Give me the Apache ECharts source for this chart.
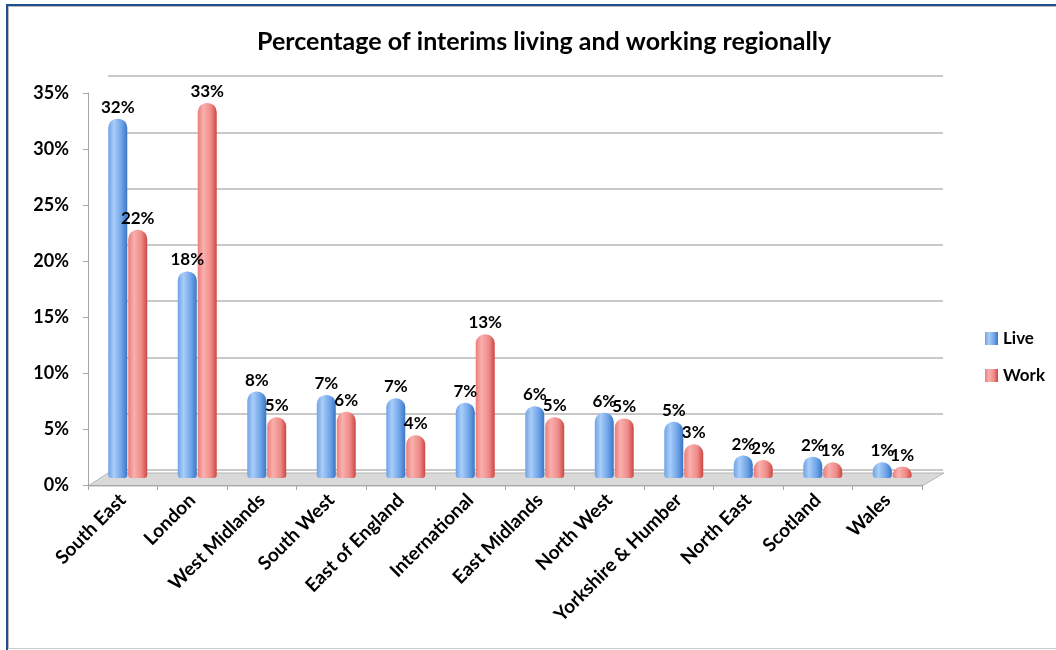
<!DOCTYPE html>
<html>
<head>
<meta charset="utf-8">
<script src="https://cdn.jsdelivr.net/npm/echarts@6/dist/echarts.min.js"></script>
<style>
  html, body { margin: 0; padding: 0; background: #fff; }
  #frame { position: absolute; left: 6px; top: 4px; width: 1056px; height: 650px;
           border-top: 2px solid #1f4f8f; border-left: 2px solid #1f4f8f; box-sizing: border-box; }
  #inner { position: absolute; left: 8px; top: 6px; width: 1056px; height: 643px;
           border-top: 1px solid #b8b8b8; border-left: 1px solid #b8b8b8; border-bottom: 1px solid #cfcfcf; box-sizing: border-box; }
  #chart { position: absolute; left: 0; top: 0; width: 1056px; height: 650px; }
</style>
</head>
<body>
<div id="frame"></div>
<div id="inner"></div>
<div id="chart"></div>
<script>
const categories = ["South East", "London", "West Midlands", "South West", "East of England",
  "International", "East Midlands", "North West", "Yorkshire & Humber", "North East", "Scotland", "Wales"];
const liveValues = [32.0, 18.4, 7.7, 7.4, 7.1, 6.7, 6.4, 5.8, 5.0, 2.0, 1.9, 1.4];
const workValues = [22.1, 33.4, 5.4, 5.9, 3.8, 12.8, 5.4, 5.3, 3.0, 1.6, 1.4, 1.0];
const yTicks = [0, 5, 10, 15, 20, 25, 30, 35];

const FONT = 'Lato, "Open Sans", sans-serif';

const liveColor = new echarts.graphic.LinearGradient(0, 0, 1, 0, [
  { offset: 0, color: '#6fa3e6' },
  { offset: 0.3, color: '#a9cdf8' },
  { offset: 0.7, color: '#6ea4e8' },
  { offset: 1, color: '#3b76c4' }
]);
const workColor = new echarts.graphic.LinearGradient(0, 0, 1, 0, [
  { offset: 0, color: '#ec7d7a' },
  { offset: 0.3, color: '#f9b0ae' },
  { offset: 0.7, color: '#ee8a87' },
  { offset: 1, color: '#cc4642' }
]);

const chart = echarts.init(document.getElementById('chart'), null, { renderer: 'canvas' });

const labelCfg = {
  show: true, position: 'top', distance: 3,
  fontFamily: FONT, fontWeight: 'bold', fontSize: 17, color: '#000',
  formatter: p => Math.round(p.value) + '%'
};

chart.setOption({
  animation: false,
  title: {
    text: 'Percentage of interims living and working regionally',
    left: 252, top: 24,
    textStyle: { fontFamily: FONT, fontWeight: 'bold', fontSize: 25, color: '#000' }
  },
  legend: {
    orient: 'vertical', left: 980, top: 325,
    itemWidth: 13, itemHeight: 13, itemGap: 20,
    icon: 'rect',
    textStyle: { fontFamily: FONT, fontWeight: 'bold', fontSize: 17, color: '#000' },
    data: ['Live', 'Work']
  },
  graphic: [
    {
      type: 'polygon', silent: true, z: 0,
      shape: { points: [[88, 486], [922, 486], [944, 473], [108, 473]] },
      style: { fill: '#d9d9d9', stroke: '#b5b5b5', lineWidth: 1 }
    }
  ],
  grid: [
    { left: 108, right: 113, top: 76, bottom: 180 },
    { left: 88, right: 134, top: 93, bottom: 165 },
    { left: 93, right: 129, top: 85, bottom: 172 }
  ],
  xAxis: [
    { gridIndex: 0, type: 'category', data: categories, show: false },
    {
      gridIndex: 1, type: 'category', data: categories,
      axisLine: { show: true, lineStyle: { color: '#a6a6a6' } },
      axisTick: { show: true, length: 5, lineStyle: { color: '#a6a6a6' } },
      axisLabel: {
        rotate: 45, interval: 0, margin: 12,
        fontFamily: FONT, fontWeight: 'bold', fontSize: 19, color: '#000'
      }
    },
    { gridIndex: 2, type: 'category', data: categories, show: false }
  ],
  yAxis: [
    {
      gridIndex: 0, type: 'value', min: 0, max: 35, interval: 5,
      axisLabel: { show: false }, axisLine: { show: false }, axisTick: { show: false },
      splitLine: { show: true, lineStyle: { color: '#c8c8c8', width: 2 } }
    },
    {
      gridIndex: 1, type: 'value', min: yTicks[0], max: yTicks[yTicks.length - 1], interval: 5,
      axisLine: { show: true, lineStyle: { color: '#a6a6a6' } },
      axisTick: { show: true, length: 5, lineStyle: { color: '#a6a6a6' } },
      splitLine: { show: false },
      axisLabel: {
        margin: 19,
        fontFamily: FONT, fontWeight: 'bold', fontSize: 18, color: '#000',
        formatter: '{value}%'
      }
    },
    { gridIndex: 2, type: 'value', min: 0, max: 35, interval: 5, show: false, splitLine: { show: false } }
  ],
  series: [
    {
      name: 'Live', type: 'bar', xAxisIndex: 2, yAxisIndex: 2,
      data: liveValues, barWidth: 19, barGap: '5%',
      itemStyle: { color: liveColor, borderRadius: [9, 9, 3, 3] },
      label: labelCfg, z: 3
    },
    {
      name: 'Work', type: 'bar', xAxisIndex: 2, yAxisIndex: 2,
      data: workValues, barWidth: 19,
      itemStyle: { color: workColor, borderRadius: [9, 9, 3, 3] },
      label: labelCfg, z: 3
    }
  ]
});
</script>
</body>
</html>
